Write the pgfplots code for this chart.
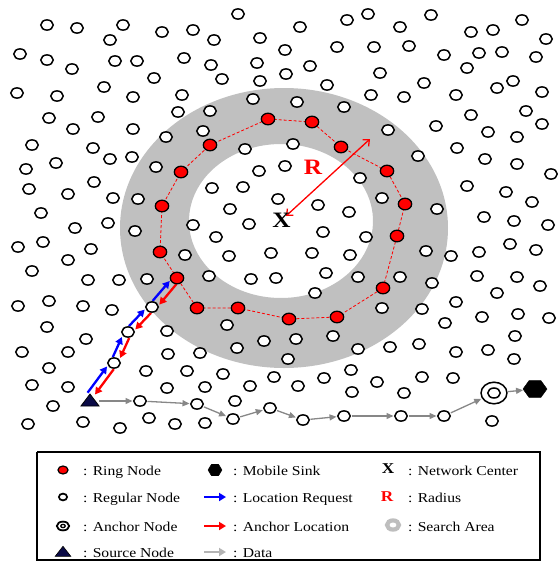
\documentclass[border=0pt]{standalone}
\usepackage{pgfplots}
\pgfplotsset{compat=1.18}
\usepackage{fontspec}
\setmainfont{Liberation Serif}
\usetikzlibrary{arrows.meta}
\pgfdeclareplotmark{hexagon}{%
 \pgfpathmoveto{\pgfqpointpolar{0}{\pgfplotmarksize}}%
 \pgfpathlineto{\pgfqpointpolar{60}{\pgfplotmarksize}}%
 \pgfpathlineto{\pgfqpointpolar{120}{\pgfplotmarksize}}%
 \pgfpathlineto{\pgfqpointpolar{180}{\pgfplotmarksize}}%
 \pgfpathlineto{\pgfqpointpolar{240}{\pgfplotmarksize}}%
 \pgfpathlineto{\pgfqpointpolar{300}{\pgfplotmarksize}}%
 \pgfpathclose\pgfusepathqfillstroke}
\definecolor{ringgray}{RGB}{192,192,192}
\definecolor{navy}{RGB}{10,10,70}
\definecolor{datagray}{RGB}{135,135,135}
\definecolor{lgray}{RGB}{180,180,180}
\definecolor{sgray}{RGB}{190,190,190}
\begin{document}
\begin{tikzpicture}[
  reqarrow/.style={blue, line width=2.3pt, -{Triangle[length=7pt,width=7.5pt]}},
  ancarrow/.style={red, line width=2.3pt, -{Triangle[length=7pt,width=7.5pt]}},
  dataarrow/.style={datagray, line width=1.3pt, -{Triangle[length=7pt,width=6pt]}, shorten >=7.5pt, shorten <=7.5pt},
  lab/.style={font=\fontsize{13.6}{16}\selectfont, anchor=base west, inner sep=0pt, xscale=1.15},
]
\begin{axis}[scale only axis, width=557pt, height=571pt,
  xmin=0, xmax=557, ymin=0, ymax=571, y dir=reverse,
  hide axis, clip=false,
]
% invisible frame for bounding box
\addplot[draw=none] coordinates {(0,0) (557,571)};
% search area annulus
\fill[ringgray, even odd rule] (axis cs:284,228) ellipse [x radius=164, y radius=140]
  (axis cs:281,221) ellipse [x radius=92, y radius=77];
% ring (dashed)
\addplot[red, line width=0.8pt, dash pattern=on 3pt off 2pt] coordinates {
(177,278) (160,252) (162,206) (181,172) (210,145) (268,119) (312,122) (341,147)
(387,171) (405,204) (397,236) (383,288) (337,317) (289,319) (238,308) (197,308) (177,278)};
% radius arrow
\addplot[red, line width=1.3pt, {Straight Barb[length=5pt,width=9pt]}-{Straight Barb[length=5pt,width=9pt]}] coordinates {(370,139) (286,216)};
% location request
\addplot[reqarrow] coordinates {(87.6,392.7) (107,366.5)};
\addplot[reqarrow] coordinates {(112.8,357.1) (121.9,337)};
\addplot[reqarrow] coordinates {(129,326) (144.7,309.6)};
\addplot[reqarrow] coordinates {(152.6,300.9) (169.7,281)};
% anchor location
\addplot[ancarrow] coordinates {(176.4,284.1) (159.3,304.6)};
\addplot[ancarrow] coordinates {(151,313) (135.3,329.4)};
\addplot[ancarrow] coordinates {(129.2,338) (120.1,358)};
\addplot[ancarrow] coordinates {(113.8,369.1) (95,394.5)};
% data
\addplot[dataarrow, shorten <=9pt] coordinates {(90,401) (140,401)};
\addplot[dataarrow] coordinates {(140,401) (197,404)};
\addplot[dataarrow] coordinates {(197,404) (233,419)};
\addplot[dataarrow] coordinates {(233,419) (270,408)};
\addplot[dataarrow] coordinates {(270,408) (303,420)};
\addplot[dataarrow] coordinates {(303,420) (344,416)};
\addplot[dataarrow] coordinates {(344,416) (401,416)};
\addplot[dataarrow] coordinates {(401,416) (444,416)};
\addplot[dataarrow, shorten >=14pt] coordinates {(444,416) (494,393)};
\addplot[dataarrow, shorten <=14pt, shorten >=12pt] coordinates {(494,393) (535,389)};
% regular nodes
\addplot[only marks, mark=*, mark size=5.1pt, mark options={fill=white, draw=black, line width=1.5pt, xscale=1.22}] coordinates {
(47,25) (77,28) (123,25) (110,40) (162,32) (20,54) (47,60) (72,69) (115,61) (137,61) (154,78) (17,93) (57,96) (104,87) (133,97) (182,95) (178,112) (49,118) (98,117) (73,129) (133,129) (166,137) (32,145) (93,148) (184,58)
(238,14) (193,30) (214,40) (260,38) (300,27) (347,20) (368,14) (211,65) (285,50) (257,63) (337,47) (374,47) (222,79) (260,81) (286,74) (310,66) (327,85) (371,95) (253,99) (297,102) (344,107) (210,111) (203,131) (245,149) (293,144)
(431,15) (400,27) (471,32) (493,30) (522,20) (546,39) (409,46) (444,55) (479,53) (502,52) (536,57) (467,68) (380,73) (424,83) (497,88) (513,81) (542,92) (404,97) (456,95) (471,115) (526,111) (542,124) (388,130) (436,126) (488,132) (517,137) (457,148)
(26,169) (56,163) (110,159) (132,157) (156,167) (29,189) (94,182) (68,194) (113,198) (138,199) (41,213) (75,228) (108,223) (135,231) (18,247) (43,242) (91,249) (68,260) (32,271) (88,280) (119,280) (147,279) (185,255) (193,225)
(259,171) (285,166) (212,188) (243,187) (278,199) (230,209) (249,224) (216,237) (318,205) (349,212) (360,178) (323,232) (366,237) (229,256) (271,253) (312,253) (350,255) (209,276) (251,279) (276,278) (326,273) (358,277) (315,293)
(418,156) (485,159) (517,164) (551,174) (467,186) (506,192) (532,202) (437,209) (382,198) (484,217) (514,221) (548,225) (510,244) (536,250) (426,251) (451,256) (479,252) (400,277) (432,283) (477,276) (517,277) (540,286) (497,293)
(18,306) (49,301) (83,306) (112,310) (47,327) (86,339) (22,352) (68,352) (49,368) (32,385) (68,387) (53,406) (28,424) (83,422) (120,428) (149,418) (175,424) (167,331) (168,354) (146,371) (187,371) (167,388)
(227,325) (264,341) (296,339) (333,336) (358,349) (200,353) (237,348) (288,359) (223,374) (274,377) (250,386) (298,386) (324,378) (351,370) (352,392) (377,382) (205,387) (235,401) (205,423)
(382,308) (422,309) (456,302) (445,323) (482,317) (518,314) (549,318) (515,336) (390,347) (419,344) (456,352) (488,350) (514,359) (422,377) (453,378) (404,393) (492,421)
(114,363) (128,332) (152,307) (140,401) (197,404) (233,419) (270,408) (303,420) (344,416) (401,416) (444,416)};
% ring nodes
\addplot[only marks, mark=*, mark size=5.8pt, mark options={fill=red, draw=black, line width=1.3pt, xscale=1.15}] coordinates {
(177,278) (160,252) (162,206) (181,172) (210,145) (268,119) (312,122) (341,147)
(387,171) (405,204) (397,236) (383,288) (337,317) (289,319) (238,308) (197,308)};
% anchor node
\addplot[only marks, mark=*, mark size=10.8pt, mark options={fill=white, draw=black, line width=1.5pt, xscale=1.2}] coordinates {(494,393)};
\addplot[only marks, mark=*, mark size=5pt, mark options={fill=white, draw=black, line width=1.5pt, xscale=1.25}] coordinates {(494,393)};
% mobile sink
\addplot[only marks, mark=hexagon, mark size=12pt, mark options={fill=black, draw=black, yscale=0.8}] coordinates {(535,389)};
% source node
\addplot[only marks, mark=triangle*, mark size=8pt, mark options={fill=navy, draw=black, line width=0.8pt, xscale=1.3}] coordinates {(90,402)};
% labels
\node[font=\fontsize{22}{24}\selectfont\bfseries, inner sep=0pt, xscale=1.15] at (axis cs:281.5,220.5) {X};
\node[font=\fontsize{22}{24}\selectfont\bfseries, text=red, inner sep=0pt, xscale=1.15] at (axis cs:313,167) {R};
% legend box
\addplot[black, line width=1.3pt] coordinates {(37,452) (540,452) (540,560) (37,560) (37,452)};
% legend symbols
\addplot[only marks, mark=*, mark size=4pt, mark options={fill=red, draw=black, line width=1.2pt, xscale=1.25}] coordinates {(63,470)};
\addplot[only marks, mark=*, mark size=3.4pt, mark options={fill=white, draw=black, line width=1.7pt, xscale=1.2}] coordinates {(63,497)};
\addplot[only marks, mark=*, mark size=4.4pt, mark options={fill=white, draw=black, line width=1.8pt, xscale=1.4}] coordinates {(63,526)};
\addplot[only marks, mark=*, mark size=1.6pt, mark options={fill=white, draw=black, line width=1.3pt, xscale=1.4}] coordinates {(63,526)};
\addplot[only marks, mark=triangle*, mark size=6.7pt, mark options={fill=navy, draw=black, line width=0.6pt, xscale=1.35}] coordinates {(63,553)};
\addplot[only marks, mark=hexagon, mark size=7pt, mark options={fill=black, draw=black, yscale=0.95}] coordinates {(215,470)};
\addplot[blue, line width=2.6pt, -{Triangle[length=7pt,width=8pt]}] coordinates {(204,497) (226,497)};
\addplot[red, line width=2.6pt, -{Triangle[length=7pt,width=8pt]}] coordinates {(204,526) (226,526)};
\addplot[lgray, line width=2.6pt, -{Triangle[length=7pt,width=8pt]}] coordinates {(204,552) (226,552)};
\addplot[only marks, mark=*, mark size=4.6pt, mark options={fill=white, draw=sgray, line width=4.2pt, xscale=1.3}] coordinates {(393,525)};
% legend text
\node[lab] at (axis cs:83,475) {: Ring Node};
\node[lab] at (axis cs:83,502) {: Regular Node};
\node[lab] at (axis cs:83,531) {: Anchor Node};
\node[lab] at (axis cs:83,557) {: Source Node};
\node[lab] at (axis cs:233,475) {: Mobile Sink};
\node[lab] at (axis cs:233,502) {: Location Request};
\node[lab] at (axis cs:233,531) {: Anchor Location};
\node[lab] at (axis cs:233,557) {: Data};
\node[lab] at (axis cs:408,475) {: Network Center};
\node[lab] at (axis cs:408,502) {: Radius};
\node[lab] at (axis cs:408,531) {: Search Area};
\node[font=\fontsize{15}{17}\selectfont\bfseries, inner sep=0pt, xscale=1.15] at (axis cs:388,469) {X};
\node[font=\fontsize{15}{17}\selectfont\bfseries, text=red, inner sep=0pt, xscale=1.15] at (axis cs:387,497) {R};
\end{axis}
\end{tikzpicture}
\end{document}
